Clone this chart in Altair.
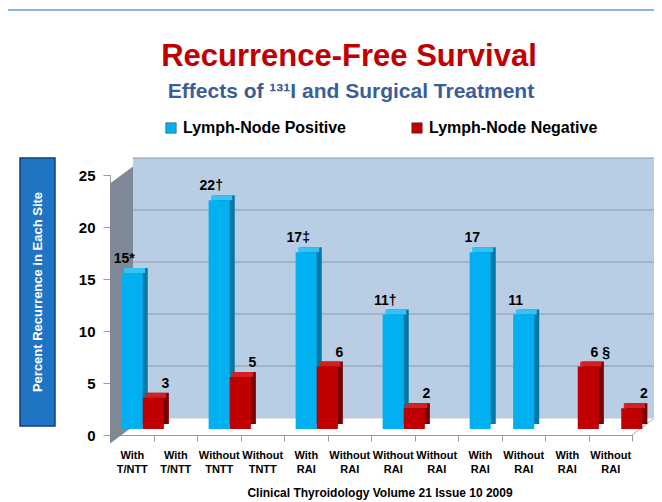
import altair as alt
import pandas as pd

# ---------------- data ----------------
cat_top = ["With", "With", "Without", "Without", "With", "Without",
           "Without", "Without", "With", "Without", "With", "Without"]
cat_bottom = ["T/NTT", "T/NTT", "TNTT", "TNTT", "RAI", "RAI",
              "RAI", "RAI", "RAI", "RAI", "RAI", "RAI"]
positive = [15, None, 22, None, 17, None, 11, None, 17, 11, None, None]
negative = [3, None, 5, None, 6, None, 2, None, None, None, 6, 2]
pos_labels = ["15*", "", "22\u2020", "", "17\u2021", "", "11\u2020", "", "17", "11", "", ""]
neg_labels = ["3", "", "5", "", "6", "", "2", "", "", "", "6 \u00a7", "2"]
series = ["Lymph-Node Positive", "Lymph-Node Negative"]
y_ticks = [0, 5, 10, 15, 20, 25]

keys = [f"{i+1:02d}|{a}|{b}" for i, (a, b) in enumerate(zip(cat_top, cat_bottom))]
rows = []
for k, p, n, pl, nl in zip(keys, positive, negative, pos_labels, neg_labels):
    if p is not None:
        rows.append({"cat": k, "series": series[0], "value": p, "label": pl})
    if n is not None:
        rows.append({"cat": k, "series": series[1], "value": n, "label": nl})
df = pd.DataFrame(rows)
one = pd.DataFrame({"k": [0]})
grid_df = pd.DataFrame({"value": y_ticks[1:]})

FONT = "Liberation Sans, Arial, sans-serif"

W, H = 522, 260
BAND = W / 12
DEPTH_X, DEPTH_Y = 23, 17   # 3-D depth of the back wall
SHIFT_X, SHIFT_Y = 11, 6    # bars sit part way into the depth

xscale = alt.Scale(domain=keys, paddingInner=0, paddingOuter=0)
def off_scale(dx):
    return alt.Scale(domain=series, range=[dx, BAND + dx], paddingInner=0, paddingOuter=0.03)
yscale = alt.Scale(domain=[0, 25], nice=False)

x_enc = alt.X("cat:N", scale=xscale, title=None,
              axis=alt.Axis(labelExpr="slice(split(datum.value, '|'), 1)",
                            labelAngle=0, labelFontSize=11, labelFontWeight="bold",
                            labelFont=FONT, labelColor="black", labelPadding=8,
                            labelLineHeight=14, tickBand="extent", tickSize=6,
                            tickColor="#9a9a9a", domainColor="#9a9a9a", grid=False))
y_axis = alt.Axis(values=y_ticks, labelFontSize=15,
                  labelFontWeight="bold", labelFont=FONT, labelColor="black",
                  labelPadding=8, tickSize=7, tickColor="#9a9a9a",
                  domainColor="#9a9a9a", grid=False)
y_enc = alt.Y("value:Q", scale=yscale, title=None, axis=y_axis)

base = alt.Chart(df)
deco = alt.Chart(one)

# ---- 3-D box decorations ----
wall = deco.mark_rect(color="#b9cde5").encode(
    x=alt.value(DEPTH_X), x2=alt.value(W + DEPTH_X),
    y=alt.value(-DEPTH_Y), y2=alt.value(H - DEPTH_Y))
r = (H + DEPTH_Y) / 2
hx = DEPTH_X / 2 / r
hy = (H - DEPTH_Y) / 2 / r
side_path = f"M{-hx:.4f},{-hy:.4f} L{hx:.4f},-1 L{hx:.4f},{hy:.4f} L{-hx:.4f},1 Z"
side_wall = deco.mark_point(shape=side_path, filled=True, color="#7e8896",
                            opacity=1, size=(2 * r) ** 2, strokeWidth=0).encode(
    x=alt.value(DEPTH_X / 2), y=alt.value(H / 2))
grid = alt.Chart(grid_df).mark_rule(color="#8c97a6", strokeWidth=1,
                                    yOffset=-DEPTH_Y).encode(
    y=y_enc, x=alt.value(DEPTH_X), x2=alt.value(W + DEPTH_X))
floor_right = deco.mark_rule(color="#b0b0b0").encode(
    x=alt.value(W), y=alt.value(H), x2=alt.value(W + DEPTH_X), y2=alt.value(H - DEPTH_Y))
floor_back = deco.mark_rule(color="#c8c8c8").encode(
    x=alt.value(DEPTH_X), x2=alt.value(W + DEPTH_X), y=alt.value(H - DEPTH_Y))

# ---- bars ----
side = base.mark_bar(yOffset=-SHIFT_Y - 5, y2Offset=-SHIFT_Y - 5).encode(
    x=x_enc, xOffset=alt.XOffset("series:N", scale=off_scale(SHIFT_X + 5)), y=y_enc,
    color=alt.condition(alt.datum.series == series[0],
                        alt.value("#0078a6"), alt.value("#780000")))
top = base.mark_bar(yOffset=-SHIFT_Y - 5, y2Offset=-SHIFT_Y).encode(
    x=x_enc, xOffset=alt.XOffset("series:N", scale=off_scale(SHIFT_X + 2.5)),
    y=y_enc, y2="value:Q",
    color=alt.condition(alt.datum.series == series[0],
                        alt.value("#33c4f5"), alt.value("#d42020")))
front = base.mark_bar(yOffset=-SHIFT_Y, y2Offset=-SHIFT_Y).encode(
    x=x_enc, xOffset=alt.XOffset("series:N", scale=off_scale(SHIFT_X)), y=y_enc,
    color=alt.Color("series:N",
                    scale=alt.Scale(domain=series, range=["#00b0f0", "#c00000"]),
                    legend=alt.Legend(title=None, orient="none", legendX=53, legendY=-55,
                                      direction="horizontal", columns=2, columnPadding=63,
                                      symbolType="square", symbolSize=110,
                                      symbolStrokeColor="#333333", symbolStrokeWidth=0.5,
                                      labelFontSize=16, labelFontWeight="bold",
                                      labelFont=FONT, labelColor="black", labelLimit=300)))
labels = base.mark_text(baseline="bottom", dy=-SHIFT_Y - 7, dx=2, fontSize=14,
                        fontWeight="bold", font=FONT, color="black").encode(
    x=x_enc, xOffset=alt.XOffset("series:N", scale=off_scale(SHIFT_X)), y=y_enc,
    text="label:N")

# ---- texts, axis box, footer, frame ----
title = deco.mark_text(fontSize=31, fontWeight="bold", font=FONT, color="#c00000",
                       baseline="middle").encode(
    x=alt.value(239), y=alt.value(-118), text=alt.value("Recurrence-Free Survival"))
subtitle = deco.mark_text(fontSize=21, fontWeight="bold", font=FONT, color="#3b5e98",
                          baseline="middle").encode(
    x=alt.value(241), y=alt.value(-83),
    text=alt.value("Effects of \u00b9\u00b3\u00b9I and Surgical Treatment"))
ybox = deco.mark_rect(color="#1f74c4", stroke="#0d3f7a", strokeWidth=1.5).encode(
    x=alt.value(-90), x2=alt.value(-55), y=alt.value(-17), y2=alt.value(251))
ytitle = deco.mark_text(angle=270, fontSize=13, fontWeight="bold", font=FONT,
                        color="white", baseline="middle").encode(
    x=alt.value(-72), y=alt.value(117),
    text=alt.value("Percent  Recurrence in Each Site"))
footer = deco.mark_text(fontSize=12, fontWeight="bold", font=FONT, color="black",
                        baseline="middle").encode(
    x=alt.value(270), y=alt.value(318),
    text=alt.value("Clinical Thyroidology Volume 21 Issue 10 2009"))
frame_left = deco.mark_rule(color="#8db3e2", strokeWidth=2).encode(
    x=alt.value(-103), y=alt.value(-165), y2=alt.value(330))
frame_top = deco.mark_rule(color="#8db3e2", strokeWidth=2).encode(
    x=alt.value(-103), x2=alt.value(560), y=alt.value(-165))

chart = alt.layer(
    frame_left, frame_top, wall, side_wall, grid, floor_back, floor_right,
    ybox, ytitle, title, subtitle, footer,
    side, top, front, labels
).resolve_scale(xOffset="independent").properties(
    width=W, height=H,
    padding={"left": 102, "top": 167, "right": 22, "bottom": 67},
    autosize=alt.AutoSizeParams(type="none"),
    background="white",
).configure_view(stroke=None)

chart.save("out.html", embed_options={"renderer": "svg", "actions": False})
